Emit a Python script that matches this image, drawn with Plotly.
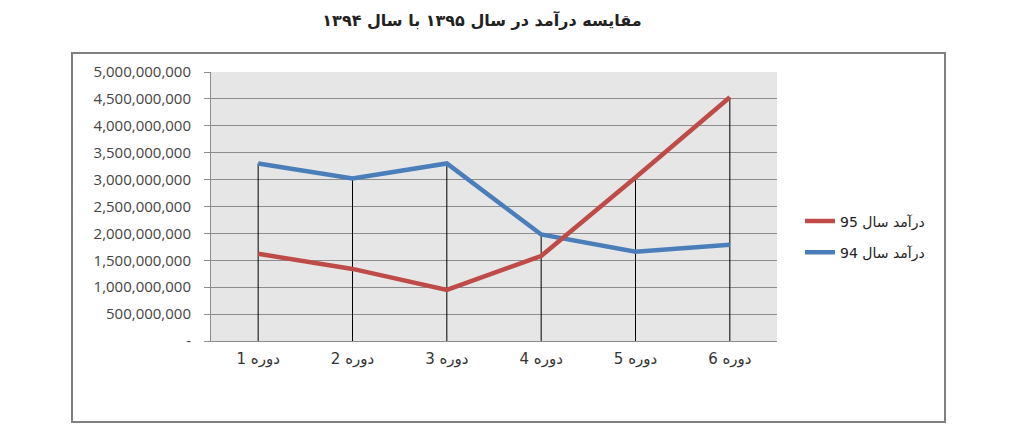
import plotly.graph_objects as go

categories = ["دوره 1", "دوره 2", "دوره 3", "دوره 4", "دوره 5", "دوره 6"]
income_95 = [1.62e9, 1.34e9, 0.95e9, 1.58e9, 3.04e9, 4.53e9]
income_94 = [3.30e9, 3.02e9, 3.30e9, 1.98e9, 1.66e9, 1.79e9]
name_95 = "درآمد سال 95"
name_94 = "درآمد سال 94"
title_text = "مقایسه درآمد در سال ۱۳۹۵ با سال ۱۳۹۴"
y_tickvals = [0, 5e8, 1e9, 1.5e9, 2e9, 2.5e9, 3e9, 3.5e9, 4e9, 4.5e9, 5e9]
y_ticktext = ["-", "500,000,000", "1,000,000,000", "1,500,000,000", "2,000,000,000",
              "2,500,000,000", "3,000,000,000", "3,500,000,000", "4,000,000,000",
              "4,500,000,000", "5,000,000,000"]

fig = go.Figure()

# drop lines from the higher series down to the axis
dx, dy = [], []
for c, a, b in zip(categories, income_95, income_94):
    dx += [c, c, None]
    dy += [0, max(a, b), None]
fig.add_trace(go.Scatter(x=dx, y=dy, mode="lines", line=dict(color="black", width=1),
                         showlegend=False, hoverinfo="skip"))

fig.add_trace(go.Scatter(x=categories, y=income_94, name=name_94, mode="lines",
                         line=dict(color="#4a7ebb", width=4.5), legendrank=2, legendgroup="b"))
fig.add_trace(go.Scatter(x=categories, y=income_95, name=name_95, mode="lines",
                         line=dict(color="#be4b48", width=4.5), legendrank=1, legendgroup="a"))

L, R, T, B = 211, 777, 72, 341
W, H = 1024, 447
pw, ph = R - L, B - T

def px(x):
    return (x - L) / pw

def py(y):
    return (B - y) / ph

fig.update_layout(
    width=W, height=H,
    margin=dict(l=L, r=W - R, t=T, b=H - B, pad=0),
    paper_bgcolor="white",
    plot_bgcolor="#e6e6e6",
    title=dict(text=title_text, x=482 / W, xanchor="center", y=1 - 20 / H, yanchor="middle",
               font=dict(family="DejaVu Sans", size=16, color="#222222", weight="bold")),
    xaxis=dict(type="category", range=[-0.5, 5.5], showgrid=False, showline=True,
               linecolor="#8c8c8c", linewidth=1, ticks="", zeroline=False,
               ticklabelstandoff=4,
               tickfont=dict(family="DejaVu Sans", size=15, color="#333333")),
    yaxis=dict(range=[0, 5e9], tickvals=y_tickvals, ticktext=y_ticktext, showgrid=True,
               gridcolor="#8c8c8c", gridwidth=1, showline=True, linecolor="#8c8c8c",
               linewidth=1, ticks="outside", ticklen=6, tickcolor="#8c8c8c",
               ticklabelstandoff=10, zeroline=False,
               tickfont=dict(family="Open Sans", size=15, color="#444444")),
    legend=dict(x=px(800), xanchor="left", y=py(237), yanchor="middle",
                bgcolor="rgba(0,0,0,0)", tracegroupgap=10,
                font=dict(family="DejaVu Sans", size=14, color="#222222")),
    showlegend=True,
    shapes=[dict(type="rect", xref="paper", yref="paper",
                 x0=px(72), x1=px(945), y0=py(422), y1=py(53),
                 line=dict(color="#808080", width=2), fillcolor="rgba(0,0,0,0)", layer="below")],
)

fig.write_html("out.html", config={"displayModeBar": False},
               post_script="document.body.style.margin='0';")
